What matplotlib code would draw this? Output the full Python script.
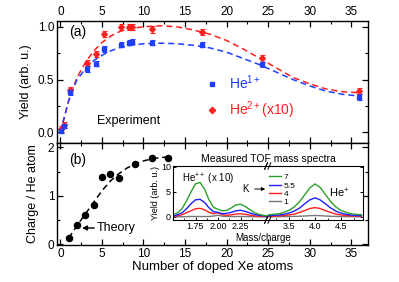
import matplotlib
matplotlib.use("Agg")
import matplotlib.pyplot as plt
from matplotlib.lines import Line2D
from matplotlib.ticker import MultipleLocator, FixedLocator

plt.rcParams['font.family'] = ['Liberation Sans', 'DejaVu Sans']
plt.rcParams['mathtext.fontset'] = 'custom'
plt.rcParams['mathtext.rm'] = 'Liberation Sans'
plt.rcParams['mathtext.it'] = 'Liberation Sans:italic'
plt.rcParams['mathtext.bf'] = 'Liberation Sans:bold'

# ---------------- data ----------------
# panel (a): experiment
n_xe = [0.1, 0.5, 1.2, 3.2, 4.3, 5.3, 7.3, 8.2, 8.6, 11.0, 17.0, 24.3, 35.9]
he1 = [0.01, 0.06, 0.38, 0.60, 0.65, 0.79, 0.83, 0.85, 0.86, 0.85, 0.83, 0.645, 0.335]
he1_err = [0.02, 0.02, 0.025, 0.025, 0.025, 0.025, 0.025, 0.025, 0.025, 0.025, 0.025, 0.025, 0.025]
he2 = [0.03, 0.07, 0.40, 0.66, 0.74, 0.93, 1.00, 1.00, 1.00, 0.975, 0.95, 0.70, 0.39]
he2_err = [0.03, 0.03, 0.03, 0.03, 0.03, 0.03, 0.03, 0.03, 0.03, 0.03, 0.03, 0.03, 0.03]

fit_x = [0, 1, 2, 3, 4, 5, 6, 7, 8, 10, 12, 14, 16, 18, 20, 22, 24, 26, 28, 30, 32, 34, 36]
fit_he1 = [0.0, 0.30, 0.50, 0.60, 0.68, 0.73, 0.77, 0.80, 0.82, 0.84, 0.845, 0.84, 0.825, 0.80,
           0.76, 0.70, 0.64, 0.57, 0.50, 0.44, 0.39, 0.36, 0.345]
fit_he2 = [0.0, 0.30, 0.52, 0.66, 0.77, 0.85, 0.91, 0.95, 0.98, 1.00, 1.01, 1.00, 0.97, 0.93,
           0.87, 0.79, 0.70, 0.61, 0.52, 0.46, 0.41, 0.385, 0.375]

# panel (b): theory
th_x = [1, 2, 3, 4, 5, 6, 7, 9, 11, 13]
th_y = [0.12, 0.40, 0.60, 0.80, 1.38, 1.45, 1.37, 1.65, 1.78, 1.78]
thfit_x = [1, 1.5, 2, 2.5, 3, 3.5, 4, 4.5, 5, 6, 7, 8, 9, 10, 11, 12, 13]
thfit_y = [0.12, 0.25, 0.38, 0.50, 0.62, 0.74, 0.86, 0.98, 1.10, 1.30, 1.45, 1.57, 1.66, 1.72,
           1.76, 1.79, 1.80]

# inset: TOF spectra, K values
k_labels = ['7', '5.5', '4', '1']
k_colors = ['#2ca02c', '#1f1fff', '#ff2020', '#777777']
mq_left = [1.50, 1.55, 1.60, 1.65, 1.70, 1.75, 1.80, 1.85, 1.90, 1.95, 2.00,
           2.05, 2.10, 2.15, 2.20, 2.25, 2.30, 2.35, 2.40, 2.45, 2.50, 2.55]
spec_left = {
    '7':   [0.4, 0.8, 1.6, 3.2, 5.0, 6.6, 6.9, 5.6, 3.4, 1.9, 1.5, 1.2, 1.3, 1.8, 2.4, 2.5, 2.1, 1.5, 0.9, 0.5, 0.3, 0.2],
    '5.5': [0.2, 0.4, 0.8, 1.6, 2.6, 3.4, 3.5, 2.9, 1.8, 1.0, 0.9, 0.6, 0.7, 0.9, 1.2, 1.3, 1.1, 0.8, 0.5, 0.3, 0.2, 0.1],
    '4':   [0.1, 0.2, 0.4, 0.8, 1.2, 1.6, 1.7, 1.4, 0.9, 0.6, 0.8, 0.4, 0.3, 0.4, 0.55, 0.6, 0.5, 0.35, 0.2, 0.1, 0.05, 0.05],
    '1':   [0.0, 0.0, 0.0, 0.02, 0.05, 0.05, 0.05, 0.05, 0.05, 0.15, 0.3, 0.1, 0.05, 0.05, 0.05, 0.05, 0.05, 0.02, 0.0, 0.0, 0.0, 0.0],
}
mq_right = [3.1, 3.2, 3.3, 3.4, 3.5, 3.6, 3.7, 3.8, 3.9, 4.0,
            4.1, 4.2, 4.3, 4.4, 4.5, 4.6, 4.7, 4.8, 4.9]
spec_right = {
    '7':   [0.4, 0.5, 0.6, 0.9, 1.3, 2.0, 3.0, 4.4, 5.8, 6.6, 5.9, 4.5, 3.1, 2.0, 1.3, 0.9, 0.6, 0.5, 0.4],
    '5.5': [0.2, 0.3, 0.35, 0.5, 0.75, 1.15, 1.75, 2.6, 3.4, 3.8, 3.4, 2.6, 1.8, 1.15, 0.75, 0.5, 0.35, 0.25, 0.2],
    '4':   [0.1, 0.12, 0.18, 0.25, 0.37, 0.55, 0.85, 1.25, 1.65, 1.85, 1.65, 1.25, 0.87, 0.56, 0.37, 0.25, 0.17, 0.12, 0.1],
    '1':   [0.0, 0.0, 0.02, 0.03, 0.05, 0.07, 0.1, 0.15, 0.22, 0.25, 0.22, 0.15, 0.1, 0.07, 0.05, 0.03, 0.02, 0.0, 0.0],
}

# ---------------- layout ----------------
W, H = 399, 282
fig = plt.figure(figsize=(W / 100, H / 100), dpi=100)

def rect(x0, y0, x1, y1):
    return [x0 / W, 1 - y1 / H, (x1 - x0) / W, (y1 - y0) / H]

def fp(x, y):
    return (x / W, 1 - y / H)

BLUE = '#1f3fff'
RED = '#ff1f1f'

axa = fig.add_axes(rect(57, 21, 368, 143))
axb = fig.add_axes(rect(57, 143, 368, 245))

for ax in (axa, axb):
    ax.set_xlim(-0.4, 37)
    ax.xaxis.set_major_locator(MultipleLocator(5))
    ax.xaxis.set_minor_locator(MultipleLocator(2.5))
    ax.tick_params(which='both', direction='in', top=True, right=True, labelsize=8.5, pad=2)
    ax.tick_params(which='major', length=4, width=0.9)
    ax.tick_params(which='minor', length=2.2, width=0.8)
    for s in ax.spines.values():
        s.set_linewidth(1.0)

# panel (a)
axa.set_ylim(-0.1, 1.055)
axa.yaxis.set_major_locator(FixedLocator([0.0, 0.5, 1.0]))
axa.yaxis.set_minor_locator(MultipleLocator(0.25))
axa.set_yticklabels(['0.0', '0.5', '1.0'])
axa.tick_params(labeltop=True, labelbottom=False)
axa.plot(fit_x, fit_he2, ls=(0, (4, 2.5)), color=RED, lw=1.1)
axa.plot(fit_x, fit_he1, ls=(0, (4, 2.5)), color=BLUE, lw=1.1)
axa.errorbar(n_xe, he2, yerr=he2_err, fmt='D', color=RED, ms=2.9, capsize=1.8, elinewidth=0.8, capthick=0.8)
axa.errorbar(n_xe, he1, yerr=he1_err, fmt='s', color=BLUE, ms=2.6, capsize=1.8, elinewidth=0.8, capthick=0.8)
axa.set_ylabel('Yield (arb. u.)', fontsize=9, labelpad=4)
axa.text(0.04, 0.91, '(a)', transform=axa.transAxes, fontsize=10, va='center', ha='left')
axa.text(0.13, 0.18, 'Experiment', transform=axa.transAxes, fontsize=9, va='center', ha='left')
handles = [Line2D([], [], ls='none', marker='s', color=BLUE, ms=3.0),
           Line2D([], [], ls='none', marker='D', color=RED, ms=3.2)]
leg = axa.legend(handles, ['He$^{1+}$', 'He$^{2+}$(x10)'], loc='upper left',
                 bbox_to_anchor=(0.475, 0.57), frameon=False, fontsize=10,
                 handlelength=1.0, handletextpad=0.75, labelspacing=0.5, borderpad=0,
                 borderaxespad=0)
for t, c in zip(leg.get_texts(), [BLUE, RED]):
    t.set_color(c)

# panel (b)
axb.set_ylim(-0.02, 2.09)
axb.yaxis.set_major_locator(MultipleLocator(1))
axb.yaxis.set_minor_locator(MultipleLocator(0.5))
axb.plot(thfit_x, thfit_y, ls=(0, (4, 2.5)), color='black', lw=1.1)
axb.plot(th_x, th_y, 'o', color='black', ms=4.4)
axb.set_ylabel('Charge / He atom', fontsize=9, labelpad=6)
axb.set_xlabel('Number of doped Xe atoms', fontsize=9.5, labelpad=1)
axb.text(0.04, 0.83, '(b)', transform=axb.transAxes, fontsize=10, va='center', ha='left')
axb.annotate('Theory', xy=fp(82, 228), xycoords='figure fraction',
             xytext=fp(97, 228), textcoords='figure fraction', fontsize=9, va='center', ha='left',
             arrowprops=dict(arrowstyle='-|>', color='black', lw=1.0, mutation_scale=7,
                             shrinkA=0, shrinkB=0))

# inset
axl = fig.add_axes(rect(173, 166, 267.5, 220))
axr = fig.add_axes(rect(267.5, 166, 363, 220))
for ax in (axl, axr):
    ax.set_ylim(-0.65, 10.2)
    ax.tick_params(which='both', direction='in', labelsize=6.5, pad=1.5)
    ax.tick_params(which='major', length=2.5, width=0.7)
    ax.tick_params(which='minor', length=1.5, width=0.6)
    for s in ax.spines.values():
        s.set_linewidth(0.8)
axl.set_xlim(1.5, 2.55)
axr.set_xlim(3.08, 4.93)
axl.xaxis.set_major_locator(FixedLocator([1.75, 2.0, 2.25]))
axl.set_xticklabels(['1.75', '2.00', '2.25'])
axl.xaxis.set_minor_locator(FixedLocator([1.625, 1.875, 2.125, 2.375]))
axr.xaxis.set_major_locator(FixedLocator([3.5, 4.0, 4.5]))
axr.xaxis.set_minor_locator(FixedLocator([3.25, 3.75, 4.25, 4.75]))
axl.yaxis.set_major_locator(FixedLocator([0, 5, 10]))
axr.yaxis.set_major_locator(FixedLocator([0, 5, 10]))
axl.spines['right'].set_visible(False)
axr.spines['left'].set_visible(False)
axr.tick_params(axis='y', which='both', left=False, right=True, labelleft=False)
axl.set_ylabel('Yield (arb. u.)', fontsize=6.5, labelpad=1)

for lab, col in zip(k_labels[::-1], k_colors[::-1]):
    axl.plot(mq_left, spec_left[lab], color=col, lw=1.0)
    axr.plot(mq_right, spec_right[lab], color=col, lw=1.0)

kh = [Line2D([], [], color=c, lw=1.0) for c in k_colors]
axr.legend(kh, k_labels, loc='upper left', bbox_to_anchor=(0.02, 0.86), frameon=False,
           fontsize=6, handlelength=1.4, handletextpad=0.3, labelspacing=0.05,
           borderpad=0, borderaxespad=0)

# break marks
for ax, xpos in ((axl, 1.0), (axr, 0.0)):
    for yb in (0.0, 1.0):
        ax.plot([xpos - 0.03, xpos + 0.0], [yb - 0.06, yb + 0.06], transform=ax.transAxes,
                color='black', lw=0.7, clip_on=False)
for yb in (0.0, 1.0):
    axr.plot([0.005, 0.035], [yb - 0.06, yb + 0.06], transform=axr.transAxes,
             color='black', lw=0.7, clip_on=False)

fig.text(*fp(268, 159), 'Measured TOF mass spectra', fontsize=7.5, ha='center', va='center')
fig.text(*fp(263, 238), 'Mass/charge', fontsize=7, ha='center', va='center')
fig.text(*fp(182, 179), 'He$^{++}$ (x 10)', fontsize=7, ha='left', va='center')
fig.text(*fp(329, 193), 'He$^{+}$', fontsize=8, ha='left', va='center')
fig.text(*fp(242, 189), 'K', fontsize=7, ha='left', va='center')
fig.add_artist(matplotlib.patches.FancyArrowPatch(fp(252, 189), fp(268, 189),
               transform=fig.transFigure, arrowstyle='-|>', mutation_scale=5, lw=0.7,
               color='black'))

fig.savefig('out.png', dpi=100)
